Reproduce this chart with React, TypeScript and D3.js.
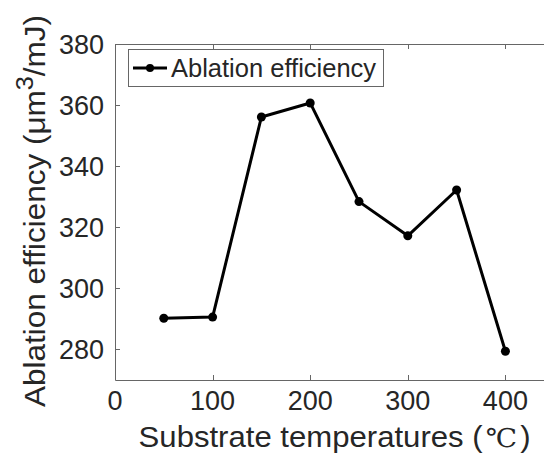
import { useEffect, useRef } from 'react'
import * as d3 from 'd3'

const temperatures = [50, 100, 150, 200, 250, 300, 350, 400]
const efficiency = [290.2, 290.6, 356.1, 360.7, 328.4, 317.2, 332.2, 279.4]
const xTicks = [0, 100, 200, 300, 400]
const yTicks = [280, 300, 320, 340, 360, 380]
const seriesName = 'Ablation efficiency'

const FONT = '"Liberation Sans", Arial, sans-serif'
const TEXT = '#262626'
const AXIS = '#666'

export default function App() {
  const svgRef = useRef<SVGSVGElement>(null)

  useEffect(() => {
    if (!svgRef.current) return
    const svg = d3.select(svgRef.current)
    svg.selectAll('*').remove()

    const left = 115
    const top = 44
    const bottom = 380
    const pxPer100 = 97.6

    const x = d3.scaleLinear().domain([0, 450]).range([left, left + 4.5 * pxPer100])
    const y = d3.scaleLinear().domain([270, 380]).range([bottom, top])

    const g = svg.append('g').attr('font-family', FONT)

    // box: left, bottom, top (right side falls outside the window)
    g.append('path')
      .attr('d', `M${x(450)},${top + 0.5}H${left + 0.5}V${bottom + 0.5}H${x(450)}`)
      .attr('fill', 'none')
      .attr('stroke', AXIS)
      .attr('stroke-width', 1)

    // inward ticks
    xTicks.forEach((t) => {
      const px = Math.round(x(t)) + 0.5
      g.append('line').attr('x1', px).attr('x2', px).attr('y1', bottom).attr('y2', bottom - 5)
        .attr('stroke', AXIS)
      g.append('line').attr('x1', px).attr('x2', px).attr('y1', top).attr('y2', top + 5)
        .attr('stroke', AXIS)
      g.append('text')
        .attr('x', x(t))
        .attr('y', 410)
        .attr('text-anchor', 'middle')
        .attr('font-size', 27)
        .attr('fill', TEXT)
        .text(t)
    })

    yTicks.forEach((t) => {
      const py = Math.round(y(t)) + 0.5
      g.append('line').attr('x1', left).attr('x2', left + 5).attr('y1', py).attr('y2', py)
        .attr('stroke', AXIS)
      g.append('text')
        .attr('x', 104)
        .attr('y', y(t))
        .attr('dy', '0.36em')
        .attr('text-anchor', 'end')
        .attr('font-size', 27)
        .attr('fill', TEXT)
        .text(t)
    })

    // line + markers
    const pts = temperatures.map((t, i) => [x(t), y(efficiency[i])] as [number, number])
    g.append('path')
      .attr('d', d3.line()(pts))
      .attr('fill', 'none')
      .attr('stroke', '#000')
      .attr('stroke-width', 3)
      .attr('stroke-linejoin', 'round')
    g.selectAll('circle.pt')
      .data(pts)
      .join('circle')
      .attr('class', 'pt')
      .attr('cx', (d) => d[0])
      .attr('cy', (d) => d[1])
      .attr('r', 4.5)
      .attr('fill', '#000')

    // legend
    const lg = g.append('g')
    lg.append('rect')
      .attr('x', 128.5)
      .attr('y', 49.5)
      .attr('width', 255)
      .attr('height', 37)
      .attr('fill', '#fff')
      .attr('stroke', AXIS)
    lg.append('line').attr('x1', 133).attr('x2', 167).attr('y1', 68).attr('y2', 68)
      .attr('stroke', '#000').attr('stroke-width', 3)
    lg.append('circle').attr('cx', 150).attr('cy', 68).attr('r', 4).attr('fill', '#000')
    lg.append('text')
      .attr('x', 171)
      .attr('y', 77)
      .attr('font-size', 25.5)
      .attr('fill', TEXT)
      .text(seriesName)

    // axis titles
    const xl = g.append('text')
      .attr('x', x(225))
      .attr('y', 447)
      .attr('text-anchor', 'middle')
      .attr('font-size', 29)
      .attr('fill', TEXT)
      .attr('textLength', 392)
      .attr('lengthAdjust', 'spacingAndGlyphs')
    xl.append('tspan').text('Substrate temperatures (')
    xl.append('tspan')
      .attr('font-family', '"DejaVu Serif", "Noto Sans CJK SC", serif')
      .attr('font-size', 26)
      .attr('dx', 3)
      .text('℃')
    xl.append('tspan').attr('dx', 3).text(')')

    const yl = g.append('text')
      .attr('transform', `translate(45,211) rotate(-90)`)
      .attr('text-anchor', 'middle')
      .attr('font-size', 30)
      .attr('fill', TEXT)
      .attr('textLength', 392)
      .attr('lengthAdjust', 'spacingAndGlyphs')
    yl.append('tspan').text('Ablation efficiency (μm')
    yl.append('tspan').attr('dy', -12).attr('font-size', 24).text('3')
    yl.append('tspan').attr('dy', 12).text('/mJ)')
  }, [])

  return (
    <svg
      ref={svgRef}
      width={544}
      height={462}
      style={{ position: 'absolute', left: 0, top: 0, background: '#fff' }}
    />
  )
}
